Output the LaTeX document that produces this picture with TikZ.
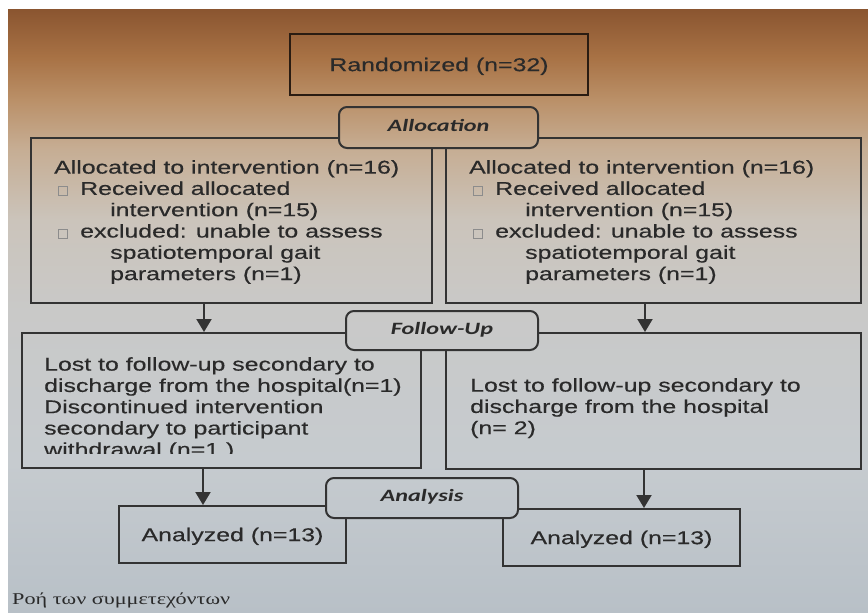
\documentclass[tikz,border=0pt]{standalone}
\usepackage{fontspec}
\setmainfont{Liberation Sans}[FakeStretch=1.345,FakeBold=0.4]
\newfontfamily\labfont{Carlito}[FakeStretch=1.40]
\newfontfamily\grfont{Liberation Serif}[FakeStretch=1.345]
\usetikzlibrary{arrows.meta}
\definecolor{linec}{HTML}{333333}
\definecolor{randc}{HTML}{2A1C12}
\definecolor{txtc}{HTML}{2A2A2A}
\definecolor{chkgray}{HTML}{8C8C8C}
\definecolor{bg0}{HTML}{B8C0C7}
\definecolor{bg1}{HTML}{C6CBCF}
\definecolor{bg2}{HTML}{C9C9C8}
\definecolor{bg3}{HTML}{CBC4BB}
\definecolor{bg4}{HTML}{C6AD93}
\definecolor{bg5}{HTML}{BA9068}
\definecolor{bg6}{HTML}{A87245}
\definecolor{bg7}{HTML}{8A5530}
% TikZ maps 25bp..75bp of the shading onto the filled path
\pgfdeclareverticalshading{photobg}{100bp}{color(0bp)=(bg0); color(25bp)=(bg0); color(37.5bp)=(bg1); color(50bp)=(bg2); color(57.5bp)=(bg3); color(63.5bp)=(bg4); color(67.5bp)=(bg5); color(71bp)=(bg6); color(75bp)=(bg7); color(100bp)=(bg7)}
\newcommand\bodyfont{\fontsize{18.5pt}{21.3pt}\selectfont}
\newcommand\chkbox{\hspace*{4pt}{\color{chkgray}\setlength{\fboxsep}{0pt}\setlength{\fboxrule}{0.8pt}\fbox{\rule{0pt}{8.2pt}\rule{8.4pt}{0pt}}}\hspace*{12pt}}
\newcommand\ind{\hspace*{56pt}}
\tikzset{
  box/.style={draw=linec, line width=2pt, inner sep=0pt},
  onebox/.style={box, font=\bodyfont, text=txtc, text height=13.25pt, text depth=0pt},
  lab/.style={draw=linec, line width=2pt, rounded corners=8pt, inner sep=0pt,
    font=\labfont\bfseries\itshape\fontsize{17.3pt}{20pt}\selectfont, text=txtc,
    text height=11pt, text depth=4pt},
  txt/.style={inner sep=0pt, anchor=north west, align=left, text=txtc, font=\bodyfont},
  arr/.style={draw=linec, line width=2pt, -{Triangle[length=13pt,width=15pt]}}
}
\begin{document}
\begin{tikzpicture}[x=1pt,y=-1pt]
\useasboundingbox (0,0) rectangle (868,613);
\fill[white] (0,0) rectangle (868,613);
\fill[shading=photobg] (8,9) rectangle (868,613);
% stage labels
\node[lab, minimum width=199pt, minimum height=41pt] (alloc) at (438.5,127.5) {Allocation};
\node[lab, minimum width=192pt, minimum height=39pt] (fu) at (442,330.5) {Follow-Up};
\node[lab, minimum width=192pt, minimum height=40pt] (ana) at (422,498) {Analysis};
% top box
\node[onebox, draw=randc, line width=2.5pt, minimum width=298pt, minimum height=61pt] (rand) at (439,64.5) {Randomized (n=32)};
% boxes behind the stage labels
\begin{scope}[even odd rule]
\clip (0,0) rectangle (868,613)
  (alloc.north west) rectangle (alloc.south east)
  (fu.north west) rectangle (fu.south east)
  (ana.north west) rectangle (ana.south east);
\node[box, minimum width=401pt, minimum height=165pt] (a1l) at (231.5,220.5) {};
\node[box, minimum width=415pt, minimum height=165pt] (a1r) at (653.5,220.5) {};
\node[box, minimum width=399pt, minimum height=135pt] (f1l) at (221.5,400.5) {};
\node[box, minimum width=415pt, minimum height=136pt] (f1r) at (653.5,401) {};
\node[onebox, minimum width=227pt, minimum height=57pt] (anl) at (232.5,534.5) {Analyzed (n=13)};
\node[onebox, minimum width=237pt, minimum height=57pt] (anr) at (621.5,537.5) {Analyzed (n=13)};
\end{scope}
% texts
\node[txt] (ta1l) at (54,160) {\rule{0pt}{13pt}Allocated to intervention (n=16)\\
  \chkbox Received allocated\\ \ind intervention (n=15)\\
  \chkbox excluded: unable to assess\\ \ind spatiotemporal gait\\ \ind parameters (n=1)};
\node[txt] (ta1r) at (469,160) {\rule{0pt}{13pt}Allocated to intervention (n=16)\\
  \chkbox Received allocated\\ \ind intervention (n=15)\\
  \chkbox excluded: unable to assess\\ \ind spatiotemporal gait\\ \ind parameters (n=1)};
\begin{scope}
\clip (22,333) rectangle (421,453);
\node[txt] (tf1l) at (44,357) {\rule{0pt}{13pt}Lost to follow-up secondary to\\
  discharge from the hospital(n=1)\\ Discontinued intervention\\
  secondary to participant\\ withdrawal (n=1 )};
\end{scope}
\node[txt] (tf1r) at (470,378) {\rule{0pt}{13pt}Lost to follow-up secondary to\\
  discharge from the hospital\\ (n= 2)};
% arrows
\coordinate (axl) at (204,0);
\coordinate (axr) at (645,0);
\coordinate (bxl) at (203,0);
\coordinate (bxr) at (644,0);
\draw[arr] (a1l.south -| axl) -- (f1l.north -| axl);
\draw[arr] (a1r.south -| axr) -- (f1r.north -| axr);
\draw[arr] (f1l.south -| bxl) -- (anl.north -| bxl);
\draw[arr] (f1r.south -| bxr) -- (anr.north -| bxr);
% caption
\node[anchor=base west, inner sep=0pt, font=\grfont\fontsize{16.5pt}{19pt}\selectfont, text=txtc] (cap) at (12,604) {Ροή των συμμετεχόντων};
\end{tikzpicture}
\end{document}
